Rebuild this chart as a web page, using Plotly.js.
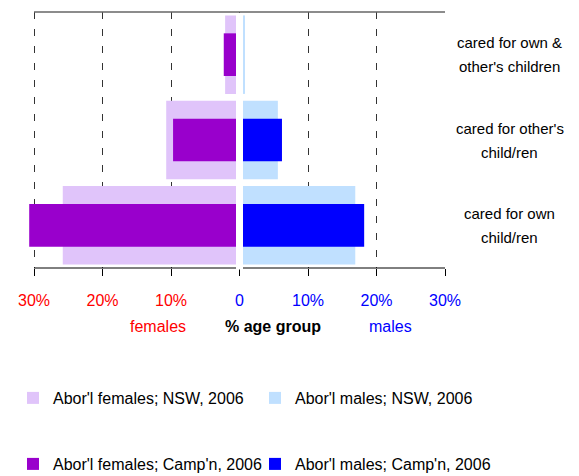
<!DOCTYPE html>
<html>
<head>
<meta charset="utf-8">
<script src="https://cdn.plot.ly/plotly-3.0.1.min.js"></script>
<style>html,body{margin:0;padding:0;background:#fff;}#chart{width:579px;height:476px;}</style>
</head>
<body>
<div id="chart"></div>
<script>
// Categories, bottom to top
var categories = ["cared for own<br>child/ren", "cared for other's<br>child/ren", "cared for own &<br>other's children"];
// Female values (% of age group), drawn to the left
var femalesNSW = [25.8, 10.7, 2.1];
var femalesCamp = [30.7, 9.7, 2.3];
// Male values (% of age group), drawn to the right
var malesNSW = [16.9, 5.6, 0.8];
var malesCamp = [18.2, 6.2, 0];
// Tick positions and labels
var tickVals = [-30, -20, -10, 0, 10, 20, 30];
var tickText = ["30%", "20%", "10%", "0", "10%", "20%", "30%"];
var tickColors = ["#ff0000", "#ff0000", "#ff0000", "#0000ff", "#0000ff", "#0000ff", "#0000ff"];

var neg = function (a) { return a.map(function (v) { return -v; }); };
var font = "Liberation Sans, Arial, sans-serif";

var traces = [
  {type: "bar", orientation: "h", name: "Abor'l females; NSW, 2006", y: categories, x: neg(femalesNSW),
   marker: {color: "#e0c4fa"}, width: 0.92, legend: "legend", hoverinfo: "skip"},
  {type: "bar", orientation: "h", name: "Abor'l males; NSW, 2006", y: categories, x: malesNSW,
   marker: {color: "#c0e0ff"}, width: 0.92, legend: "legend2", hoverinfo: "skip"},
  {type: "bar", orientation: "h", name: "Abor'l females; Camp'n, 2006", y: categories, x: neg(femalesCamp),
   marker: {color: "#9900cc"}, width: 0.5, legend: "legend3", hoverinfo: "skip"},
  {type: "bar", orientation: "h", name: "Abor'l males; Camp'n, 2006", y: categories, x: malesCamp,
   marker: {color: "#0000ff"}, width: 0.5, legend: "legend4", hoverinfo: "skip"}
];

var annotations = [];
categories.forEach(function (c) {
  var lines = c.split("<br>");
  lines.forEach(function (ln, i) {
    annotations.push({xref: "paper", yref: "y", x: 1.156, y: c, text: ln, showarrow: false,
      xanchor: "center", yanchor: "middle", yshift: (lines.length - 1) * 12 - i * 24,
      font: {family: font, size: 15, color: "#000"}});
  });
});
var axTitleY = -0.2266;
annotations.push({xref: "x", yref: "paper", x: -11.9, y: axTitleY, text: "females", showarrow: false,
  xanchor: "center", yanchor: "middle", font: {family: font, size: 16, color: "#ff0000"}});
annotations.push({xref: "x", yref: "paper", x: 4.9, y: axTitleY, text: "<b>% age group</b>", showarrow: false,
  xanchor: "center", yanchor: "middle", font: {family: font, size: 16, color: "#000"}});
annotations.push({xref: "x", yref: "paper", x: 22.0, y: axTitleY, text: "males", showarrow: false,
  xanchor: "center", yanchor: "middle", font: {family: font, size: 16, color: "#0000ff"}});

function mkLegend(xpx, ypx) {
  return {orientation: "h", xref: "container", yref: "container", x: xpx / 579, y: 1 - ypx / 476,
    xanchor: "left", yanchor: "middle",
    font: {family: font, size: 16, color: "#000"}, bgcolor: "rgba(0,0,0,0)"};
}

var layout = {
  width: 579, height: 476,
  margin: {l: 29, r: 134, t: 12, b: 208},
  paper_bgcolor: "#fff", plot_bgcolor: "#fff",
  barmode: "overlay",
  font: {family: font, size: 16, color: "#000"},
  showlegend: true,
  xaxis: {
    range: [-30.73, 30], tickmode: "array", tickvals: tickVals,
    ticktext: tickText.map(function (t, i) { return '<span style="color:' + tickColors[i] + '">' + t + '</span>'; }),
    ticks: "outside", ticklen: 7, tickcolor: "#000", tickwidth: 1,
    ticklabelstandoff: 11,
    showline: false,
    showgrid: true, gridcolor: "#333", griddash: "7px,10px", gridwidth: 1,
    zeroline: false, fixedrange: true,
    tickfont: {family: font, size: 16}
  },
  yaxis: {
    type: "category", categoryarray: categories, showticklabels: false, ticks: "",
    showgrid: false, zeroline: false, showline: false, range: [-0.5, 2.5], fixedrange: true
  },
  shapes: [
    {type: "line", xref: "x", yref: "paper", x0: -30, x1: 30, y0: 1, y1: 1,
     line: {color: "#666", width: 1.5}, layer: "above"},
    {type: "line", xref: "x", yref: "paper", x0: -30, x1: 30, y0: 0, y1: 0,
     line: {color: "#000", width: 1}, layer: "above"},
    {type: "line", xref: "x", yref: "paper", x0: 0, x1: 0, y0: -0.006, y1: 0.996,
     line: {color: "#fff", width: 7}, layer: "above"}
  ],
  annotations: annotations,
  legend: mkLegend(13, 398),
  legend2: mkLegend(255, 398),
  legend3: mkLegend(13, 464),
  legend4: mkLegend(255, 464)
};

Plotly.newPlot("chart", traces, layout, {displayModeBar: false, staticPlot: true});
</script>
</body>
</html>
